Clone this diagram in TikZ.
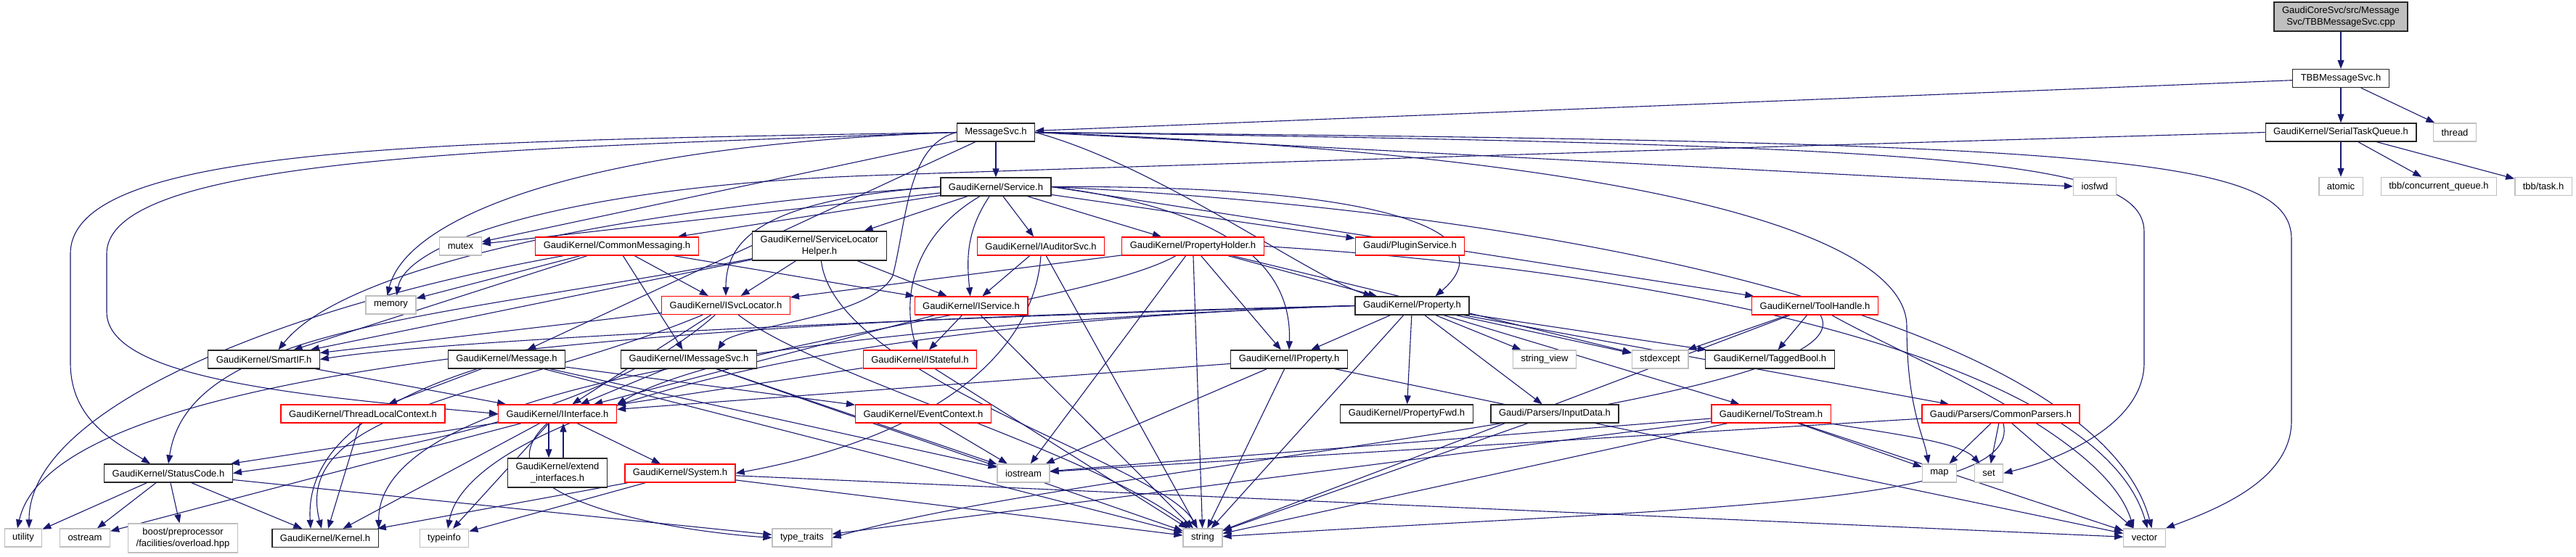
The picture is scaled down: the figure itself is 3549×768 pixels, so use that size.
\documentclass[tikz,border=0pt]{standalone}
\usepackage{fontspec}
\setmainfont{Liberation Sans}
\usetikzlibrary{arrows.meta,backgrounds}
\definecolor{edgeblue}{HTML}{191970}
\definecolor{sysgray}{HTML}{BFBFBF}
\definecolor{truncred}{HTML}{FF0000}

\begin{document}
\begin{tikzpicture}[x=1pt,y=-1pt,
  box/.style={rectangle,fill=white,inner xsep=11pt,inner ysep=0pt,minimum height=25pt,
    line width=1.3pt,align=center,font=\fontsize{13}{15.5}\selectfont},
  hdrbox/.style={box,draw=black!85},
  trunc/.style={box,draw=truncred},
  sysbox/.style={box,draw=sysgray},
  srcbox/.style={box,draw=black!85,fill=sysgray,minimum height=40pt},
  incl/.style={draw=edgeblue,line width=1.1pt,-{Triangle[length=12pt,width=9pt]}}]
\useasboundingbox (0,0) rectangle (3549,768);
  \node[srcbox] (cpp) at (3225,23) {GaudiCoreSvc/src/Message\\Svc/TBBMessageSvc.cpp};
  \node[hdrbox] (tbbsvc) at (3225,108) {TBBMessageSvc.h};
  \node[hdrbox] (msgsvc) at (1372,182.5) {MessageSvc.h};
  \node[hdrbox] (stq) at (3225,182.5) {GaudiKernel/SerialTaskQueue.h};
  \node[sysbox] (thread) at (3382,182.5) {thread};
  \node[hdrbox] (service) at (1372,257.5) {GaudiKernel/Service.h};
  \node[sysbox] (atomic) at (3225,257) {atomic};
  \node[sysbox] (concq) at (3360,257) {tbb/concurrent\_queue.h};
  \node[sysbox] (task) at (3504,257) {tbb/task.h};
  \node[sysbox] (iosfwd) at (2886,257) {iosfwd};
  \node[sysbox] (mutex) at (634.5,339.5) {mutex};
  \node[trunc] (commsg) at (850,339.5) {GaudiKernel/CommonMessaging.h};
  \node[hdrbox,minimum height=40pt] (slh) at (1129,339) {GaudiKernel/ServiceLocator\\Helper.h};
  \node[trunc] (iaud) at (1434,339.5) {GaudiKernel/IAuditorSvc.h};
  \node[trunc] (prophold) at (1643.5,339.5) {GaudiKernel/PropertyHolder.h};
  \node[trunc] (plugin) at (1942.5,339.5) {Gaudi/PluginService.h};
  \node[sysbox] (memory) at (538.5,420.5) {memory};
  \node[trunc] (isvcloc) at (1000,421) {GaudiKernel/ISvcLocator.h};
  \node[trunc] (iservice) at (1338,421.5) {GaudiKernel/IService.h};
  \node[hdrbox] (property) at (1945.5,421.5) {GaudiKernel/Property.h};
  \node[trunc] (toolh) at (2500.5,421.5) {GaudiKernel/ToolHandle.h};
  \node[hdrbox] (smartif) at (363.5,495.5) {GaudiKernel/SmartIF.h};
  \node[hdrbox] (message) at (698,495.5) {GaudiKernel/Message.h};
  \node[hdrbox] (imsgsvc) at (949,495.5) {GaudiKernel/IMessageSvc.h};
  \node[trunc] (istateful) at (1267.5,495.5) {GaudiKernel/IStateful.h};
  \node[hdrbox] (iprop) at (1776,495.5) {GaudiKernel/IProperty.h};
  \node[sysbox] (strview) at (2128,495.5) {string\_view};
  \node[sysbox] (stdexcept) at (2287,495.5) {stdexcept};
  \node[hdrbox] (tagged) at (2438.5,495.5) {GaudiKernel/TaggedBool.h};
  \node[trunc] (tlc) at (500,570.5) {GaudiKernel/ThreadLocalContext.h};
  \node[trunc] (iiface) at (768,570.5) {GaudiKernel/IInterface.h};
  \node[trunc] (evctx) at (1272,570.5) {GaudiKernel/EventContext.h};
  \node[hdrbox] (propfwd) at (1938,570.5) {GaudiKernel/PropertyFwd.h};
  \node[hdrbox] (inputdata) at (2142,570.5) {Gaudi/Parsers/InputData.h};
  \node[trunc] (tostream) at (2440,570.5) {GaudiKernel/ToStream.h};
  \node[trunc] (cparsers) at (2756.5,570.5) {Gaudi/Parsers/CommonParsers.h};
  \node[hdrbox] (statuscode) at (232,652.5) {GaudiKernel/StatusCode.h};
  \node[hdrbox,minimum height=40pt] (extif) at (768,652) {GaudiKernel/extend\\\_interfaces.h};
  \node[trunc] (system) at (937,652.5) {GaudiKernel/System.h};
  \node[sysbox] (iostream) at (1410,652.5) {iostream};
  \node[sysbox] (map) at (2672,652.5) {map};
  \node[sysbox] (set) at (2740,652.5) {set};
  \node[sysbox] (utility) at (32,741.5) {utility};
  \node[sysbox] (ostream) at (117,741.5) {ostream};
  \node[sysbox,minimum height=40pt] (boost) at (252,742) {boost/preprocessor\\/facilities/overload.hpp};
  \node[hdrbox] (kernel) at (448,742) {GaudiKernel/Kernel.h};
  \node[sysbox] (typeinfo) at (612,742) {typeinfo};
  \node[sysbox] (typetraits) at (1105,741.5) {type\_traits};
  \node[sysbox] (string) at (1657,741.5) {string};
  \node[sysbox] (vector) at (2954.5,741.5) {vector};
\begin{scope}[on background layer]
  % top of the graph
  \draw[incl] (cpp) -- (tbbsvc);
  \draw[incl] (tbbsvc) -- (msgsvc);
  \draw[incl] (tbbsvc) -- (stq);
  \draw[incl] (tbbsvc) -- (thread);
  \draw[incl] (stq) -- (atomic);
  \draw[incl] (stq) -- (concq);
  \draw[incl] (stq) -- (task);
  \draw[incl] (stq.west) .. controls (2500,200) and (1600,228) .. (1200,242) .. controls (800,256) and (560,330) .. ([xshift=8pt]memory.north);
  % MessageSvc.h
  \draw[incl] (msgsvc) -- (service);
  \draw[incl] (msgsvc.east) -- (iosfwd.west);
  \draw[incl] (msgsvc.east) .. controls (2300,215) and (2627,330) .. (2627,450) .. controls (2627,560) and (2650,600) .. ([xshift=-15pt]map.north);
  \draw[incl] (msgsvc.east) .. controls (2700,200) and (2954,220) .. (2954,320) -- (2954,500) .. controls (2954,580) and (2850,630) .. (set.east);
  \draw[incl] (msgsvc.east) .. controls (2900,195) and (3157,215) .. (3157,330) -- (3157,580) .. controls (3157,660) and (3060,700) .. (vector.north east);
  \draw[incl] (msgsvc.west) .. controls (800,200) and (560,300) .. ([xshift=-5pt]memory.north);
  \draw[incl] (msgsvc) -- (mutex);
  \draw[incl] (msgsvc.west) .. controls (600,195) and (97,200) .. (97,350) -- (97,500) .. controls (97,580) and (160,610) .. ([xshift=-25pt]statuscode.north);
  \draw[incl] (msgsvc.west) .. controls (700,205) and (147,215) .. (147,350) -- (147,430) .. controls (147,520) and (400,545) .. (iiface.west);
  \draw[incl] (msgsvc) -- (message);
  \draw[incl] (msgsvc.west) .. controls (1250,200) and (1250,300) .. (1230,380) .. controls (1200,440) and (1010,450) .. ([xshift=40pt]imsgsvc.north);
  \draw[incl] (msgsvc.east) .. controls (1600,230) and (1800,380) .. ([xshift=-55pt]property.north);
  % Service.h
  \draw[incl] (service) -- (commsg);
  \draw[incl] (service) -- (slh);
  \draw[incl] (service) -- (iaud);
  \draw[incl] (service) -- (prophold);
  \draw[incl] (service) -- (plugin);
  \draw[incl] (service.east) -- (toolh);
  \draw[incl] (service.west) .. controls (1050,275) and (1000,330) .. (isvcloc.north);
  \draw[incl] (service) .. controls (1330,320) and (1332,360) .. (iservice);
  \draw[incl] (service) .. controls (1250,330) and (1245,420) .. (istateful);
  \draw[incl] (service.east) .. controls (1700,290) and (1780,370) .. (iprop.north);
  \draw[incl] (service.east) .. controls (1950,255) and (2070,330) .. ([xshift=32pt]property.north);
  \draw[incl] (service) -- (mutex);
  \draw[incl] (service.west) .. controls (900,285) and (480,360) .. ([xshift=20pt]smartif.north);
  \draw[incl] (service.east) .. controls (2300,300) and (2900,480) .. ([xshift=10pt]vector.north);
  % CommonMessaging.h and ServiceLocatorHelper.h
  \draw[incl] (commsg) -- (isvcloc);
  \draw[incl] (commsg) -- (imsgsvc);
  \draw[incl] (commsg) -- (memory);
  \draw[incl] (commsg) -- (iservice);
  \draw[incl] (commsg) -- (smartif);
  \draw[incl] (commsg) .. controls (400,420) and (40,560) .. ([xshift=8pt]utility.north);
  \draw[incl] (slh) -- (isvcloc);
  \draw[incl] (slh) -- (iservice);
  \draw[incl] (slh) -- (smartif);
  \draw[incl] (slh) .. controls (1150,520) and (1600,640) .. (string);
  \draw[incl] (slh) .. controls (600,440) and (260,450) .. (statuscode.north);
  % IAuditorSvc.h and PropertyHolder.h
  \draw[incl] (iaud) -- (iservice);
  \draw[incl] (iaud) -- (string);
  \draw[incl] (iaud.south) .. controls (1425,480) and (1300,600) .. (system.east);
  \draw[incl] (prophold) -- (isvcloc);
  \draw[incl] (prophold) -- (iprop);
  \draw[incl] (prophold) -- (property);
  \draw[incl] (prophold) -- (stdexcept);
  \draw[incl] (prophold.east) .. controls (2400,380) and (2900,520) .. ([xshift=4pt]vector.north);
  \draw[incl] (prophold) -- (string);
  \draw[incl] (prophold) -- (iostream);
  \draw[incl] (prophold) .. controls (1500,420) and (1000,470) .. (iiface.north east);
  % ISvcLocator.h and IService.h
  \draw[incl] (isvcloc) -- (smartif);
  \draw[incl] (isvcloc) -- (iiface);
  \draw[incl] (isvcloc) .. controls (700,545) and (400,560) .. ([xshift=-5pt]kernel.north);
  \draw[incl] (isvcloc) .. controls (800,600) and (400,640) .. (statuscode.east);
  \draw[incl] (isvcloc) .. controls (1130,520) and (1500,620) .. (string);
  \draw[incl] (iservice) -- (istateful);
  \draw[incl] (iservice) -- (iiface);
  \draw[incl] (iservice) -- (string);
  % Property.h
  \draw[incl] (property) -- (iprop);
  \draw[incl] (property) -- (propfwd);
  \draw[incl] (property) -- (inputdata);
  \draw[incl] (property) -- (tostream);
  \draw[incl] (property) -- (cparsers);
  \draw[incl] (property) -- (strview);
  \draw[incl] (property) -- (stdexcept);
  \draw[incl] (property) -- (tagged);
  \draw[incl] (property) -- (string);
  \draw[incl] (property.west) .. controls (1200,440) and (600,470) .. (smartif.east);
  \draw[incl] (property.west) .. controls (1200,445) and (520,520) .. (kernel.north east);
  \draw[incl] (property.west) .. controls (1000,450) and (640,600) .. ([xshift=5pt]typeinfo.north);
  \draw[incl] (property.west) .. controls (1100,440) and (80,480) .. ([xshift=-8pt]utility.north);
  % ToolHandle.h
  \draw[incl] (toolh) -- (stdexcept);
  \draw[incl] (toolh) -- (tagged);
  \draw[incl] (toolh) -- (string);
  \draw[incl] (toolh) .. controls (2580,560) and (1500,640) .. (typetraits.east);
  \draw[incl] (toolh) .. controls (2640,500) and (2900,600) .. ([xshift=-15pt]vector.north);
  % middle rows
  \draw[incl] (smartif) -- (iiface);
  \draw[incl] (message) -- (tlc);
  \draw[incl] (message) -- (evctx);
  \draw[incl] (message) .. controls (560,540) and (420,600) .. ([xshift=-20pt]kernel.north);
  \draw[incl] (message) -- (iostream);
  \draw[incl] (message) -- (string);
  \draw[incl] (imsgsvc) -- (iiface);
  \draw[incl] (imsgsvc) -- (iostream);
  \draw[incl] (imsgsvc) -- (string);
  \draw[incl] (istateful) -- (iiface);
  \draw[incl] (istateful) -- (string);
  \draw[incl] (iprop) -- (iiface);
  \draw[incl] (iprop) -- (iostream);
  \draw[incl] (iprop) -- (string);
  \draw[incl] (iprop) -- (vector);
  \draw[incl] (tlc) -- (kernel);
  % IInterface.h
  \draw[incl] (iiface) -- (statuscode);
  \draw[incl] (iiface) -- (ostream);
  \draw[incl] (iiface) -- (kernel);
  \draw[incl] ([xshift=-12pt]iiface.south) -- ([xshift=-12pt]extif.north);
  \draw[incl] ([xshift=8pt]extif.north) -- ([xshift=8pt]iiface.south);
  \draw[incl] (iiface) -- (system);
  \draw[incl] (iiface) -- (typeinfo);
  \draw[incl] (iiface) .. controls (650,680) and (900,730) .. (typetraits.west);
  \draw[incl] (evctx) -- (iostream);
  \draw[incl] (system) -- (kernel);
  \draw[incl] (system) -- (typeinfo);
  \draw[incl] (system) -- (string);
  \draw[incl] (system) -- (vector);
  \draw[incl] (inputdata) -- (string);
  % ToStream.h and CommonParsers.h
  \draw[incl] (tostream) -- (iostream);
  \draw[incl] (tostream) -- (typetraits);
  \draw[incl] (tostream) -- (string);
  \draw[incl] (tostream) -- (map);
  \draw[incl] (tostream) .. controls (2620,600) and (2700,610) .. (set);
  \draw[incl] (tostream) -- (vector);
  \draw[incl] (cparsers) -- (map);
  \draw[incl] (cparsers) -- (set);
  \draw[incl] (cparsers) .. controls (2790,700) and (2300,700) .. (string);
  \draw[incl] (cparsers) -- (vector);
  \draw[incl] (cparsers) -- (iostream);
  % StatusCode.h
  \draw[incl] (statuscode) -- (utility);
  \draw[incl] (statuscode) -- (ostream);
  \draw[incl] (statuscode) -- (boost);
  \draw[incl] (statuscode) -- (kernel);
  \draw[incl] (statuscode) -- (typetraits);
\end{scope}
\end{tikzpicture}
\end{document}
